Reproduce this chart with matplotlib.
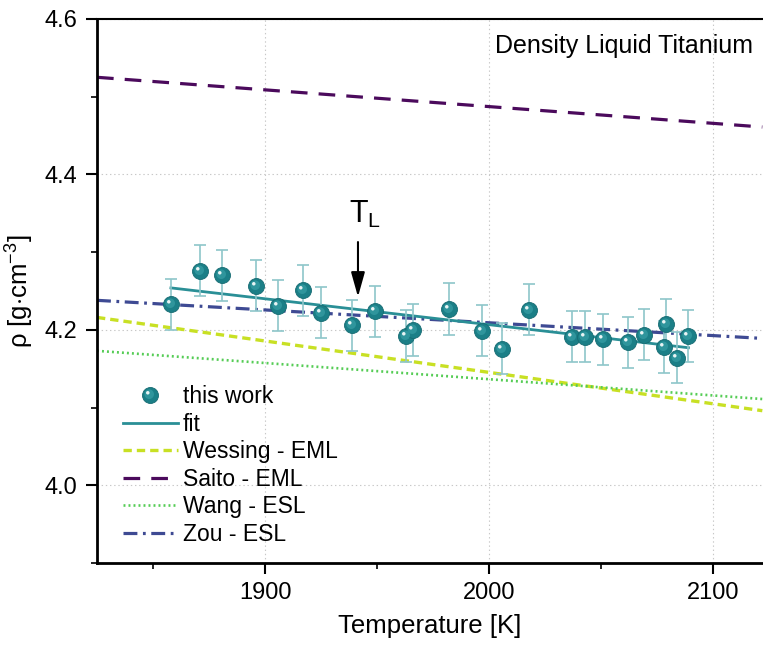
import matplotlib
matplotlib.use("Agg")
import matplotlib.pyplot as plt
from matplotlib.path import Path
from matplotlib.ticker import MultipleLocator, FormatStrFormatter

plt.rcParams['font.family'] = ['Liberation Sans', 'DejaVu Sans']
plt.rcParams['mathtext.fontset'] = 'custom'
plt.rcParams['mathtext.rm'] = 'Liberation Sans'
plt.rcParams['mathtext.it'] = 'Liberation Sans:italic'
plt.rcParams['lines.scale_dashes'] = False

# ---- data ----
T_data = [1858, 1871, 1881, 1896, 1906, 1917, 1925, 1939, 1949, 1963, 1966, 1982,
          1997, 2006, 2018, 2037, 2043, 2051, 2062, 2069, 2079, 2078, 2084, 2089]
rho_data = [4.233, 4.276, 4.270, 4.257, 4.231, 4.251, 4.222, 4.206, 4.224, 4.192, 4.200, 4.227,
            4.199, 4.176, 4.226, 4.191, 4.191, 4.188, 4.184, 4.194, 4.207, 4.178, 4.164, 4.192]
rho_err = [0.033] * len(T_data)

fit_T = [1858, 2089]
fit_rho = [4.254, 4.177]

lit_T = [1825, 2122]
wessing_rho = [4.216, 4.096]
saito_rho = [4.525, 4.461]
wang_rho = [4.173, 4.111]
zou_rho = [4.238, 4.189]

T_L = 1941.5

# ---- figure ----
fig = plt.figure(figsize=(7.63, 6.45), dpi=100)
ax = fig.add_axes([97 / 763, 1 - 563 / 645, 666 / 763, 544 / 645])
ax.set_xlim(1825, 2122.3)
ax.set_ylim(3.9, 4.6)

c_wess = '#C8E024'
c_saito = '#4B0A5C'
c_wang = '#55CC55'
c_zou = '#3E4A93'
c_fit = '#2A8F96'

l_wess, = ax.plot(lit_T, wessing_rho, color=c_wess, lw=2.4, dashes=(6, 3.6), zorder=2)
l_saito, = ax.plot(lit_T, saito_rho, color=c_saito, lw=2.3, dashes=(12, 8), zorder=2)
l_wang, = ax.plot(lit_T, wang_rho, color=c_wang, lw=1.9, dashes=(1.4, 2.2), zorder=2)
l_zou, = ax.plot(lit_T, zou_rho, color=c_zou, lw=2.3, dashes=(10, 4, 2, 4), zorder=2)
l_fit, = ax.plot(fit_T, fit_rho, color=c_fit, lw=2.0, zorder=3)

ax.errorbar(T_data, rho_data, yerr=rho_err, fmt='none', ecolor='#8EC6CA',
            elinewidth=1.2, capsize=4, capthick=1.2, zorder=4)

# sphere-like markers
def offset_circle(cx, cy, r):
    circ = Path.circle((cx, cy), r)
    anchor = Path([[0.5, 0.5]], [Path.MOVETO])
    return Path.make_compound_path(anchor, circ)

mid_marker = offset_circle(-0.08, 0.08, 0.30)
hl_marker = offset_circle(-0.17, 0.17, 0.11)
ms = 11.5
p_base, = ax.plot(T_data, rho_data, ls='none', marker='o', ms=ms, mfc='#1B7F87',
                  mec='#166B72', mew=0.6, zorder=5)
p_mid, = ax.plot(T_data, rho_data, ls='none', marker=mid_marker, ms=ms, mfc='#2F959C',
                 mec='none', mew=0, zorder=6)
p_hl, = ax.plot(T_data, rho_data, ls='none', marker=hl_marker, ms=ms, mfc='white',
                mec='none', mew=0, alpha=0.9, zorder=7)

# T_L arrow
ax.annotate('', xy=(T_L, 4.2425), xytext=(T_L, 4.313),
            arrowprops=dict(arrowstyle='-|>,head_length=1.0,head_width=0.28', color='black',
                            lw=1.5, mutation_scale=15, shrinkA=0, shrinkB=0), zorder=8)
ax.text(T_L + 3, 4.349, r'T$_\mathregular{L}$', fontsize=22, ha='center', va='center')

ax.text(0.985, 0.95, 'Density Liquid Titanium', transform=ax.transAxes, fontsize=18,
        ha='right', va='center')

# axes styling
ax.xaxis.set_major_locator(MultipleLocator(100))
ax.xaxis.set_minor_locator(MultipleLocator(50))
ax.yaxis.set_major_locator(MultipleLocator(0.2))
ax.yaxis.set_minor_locator(MultipleLocator(0.1))
ax.yaxis.set_major_formatter(FormatStrFormatter('%.1f'))

ax.grid(True, which='major', color='#C8C8C8', linestyle=(0, (1, 2)), linewidth=0.8)
ax.set_axisbelow(True)

ax.spines['right'].set_visible(False)
for s in ['left', 'bottom']:
    ax.spines[s].set_linewidth(2.0)
ax.spines['top'].set_linewidth(1.5)
ax.tick_params(which='major', direction='out', length=8, width=1.5, labelsize=17, pad=6,
               top=False, right=False)
ax.tick_params(which='minor', direction='out', length=4, width=1.2, top=False, right=False)
ax.tick_params(axis='x', which='major', pad=6)

ax.set_xlabel('Temperature [K]', fontsize=18.5, labelpad=7)
ax.set_ylabel(r'$\mathregular{\rho}$ [g$\cdot$cm$^\mathregular{-3}$]', fontsize=18.5, labelpad=6)

handles = [(p_base, p_mid, p_hl), l_fit, l_wess, l_saito, l_wang, l_zou]
labels = ['this work', 'fit', 'Wessing - EML', 'Saito - EML', 'Wang - ESL', 'Zou - ESL']
ax.legend(handles, labels, loc='upper left', bbox_to_anchor=(0.039, 0.327), frameon=False,
          fontsize=16.5, handlelength=2.4, handletextpad=0.22, labelspacing=0.2,
          borderpad=0, borderaxespad=0, numpoints=1)

fig.savefig('out.png', dpi=100)
